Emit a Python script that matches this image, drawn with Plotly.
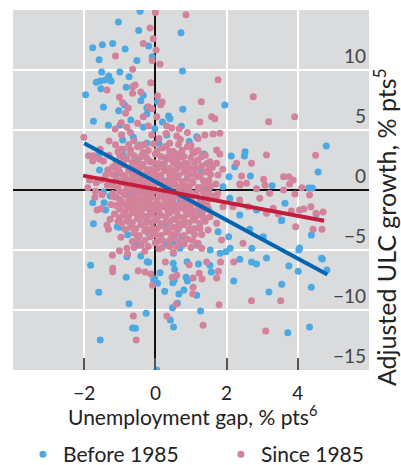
import plotly.graph_objects as go

# ---- Before 1985 (blue) ----
before_pts = [
    (-1.04,14.0),(-1.76,11.86),(-1.49,12.1),(-1.20,12.2),(-0.85,11.75),(-1.58,10.86),(-1.51,9.83),
    (-1.31,9.5),(-1.41,9.17),(-1.55,9.08),(-1.66,8.97),(-1.24,9.08),(-1.0,9.83),(-0.74,9.44),
    (-1.53,8.44),(-0.82,8.56),(-1.96,7.94),(-1.46,6.92),(-1.03,6.61),(-0.87,7.08),(-1.74,5.72),
    (-1.32,5.39),(-0.69,5.83),(-0.99,5.42),
    (-0.43,14.9),(-0.47,13.3),(0.72,13.1),(-0.19,12.0),(-0.09,11.1),(-0.52,10.8),(0.76,9.92),
    (-0.34,7.89),(-0.41,7.44),(0.06,7.36),(-0.24,6.86),(0.77,6.72),(1.95,7.08),(-0.24,6.33),
    (0.37,6.17),(0.41,5.94),(0.20,5.67),(0.73,5.31),(-0.34,5.22),(-0.02,5.11),
    (-1.57,1.67),(-0.92,4.17),(-1.46,-0.17),(-1.76,-1.06),(-1.44,-1.06),(-1.40,-1.67),(-1.74,-2.81),
    (-1.01,-3.11),(-0.78,-3.72),(-1.27,-0.5),(-1.60,2.92),
    (-1.82,-6.28),(-1.59,-8.53),(-0.82,-7.28),(-0.74,-9.47),(-1.55,-12.5),(-0.80,-5.56),(-0.64,-11.5),
    (0.04,-15.0),(-0.26,-10.28),(-0.56,-11.53),(0.42,-10.83),(0.51,-11.42),(0.48,-9.81),(0.62,-9.44),
    (1.27,-10.08),(0.26,-8.44),(0.66,-8.67),(0.80,-8.33),(1.16,-8.78),(2.20,-7.58),(0.90,-7.58),
    (0.49,-7.72),(0.06,-7.78),(-0.02,-7.39),(0.13,-6.89),(1.57,-6.83),(2.37,-5.78),(2.70,-6.0),
    (-0.19,-6.03),(-0.41,-5.5),(0.54,-6.61),(0.86,-7.28),(0.50,-6.11),(1.21,-6.17),(1.53,-6.28),(1.98,-5.14),
    (3.12,-5.67),(2.84,-6.17),(3.75,-6.33),(4.01,-6.78),(4.69,-5.75),(4.82,-6.67),(3.55,-7.86),
    (3.19,-8.5),(4.38,-8.11),(3.72,-11.9),(4.33,-11.42),(4.03,-5.0),
    (4.80,3.67),(4.57,1.5),(3.28,0.36),(4.31,0.17),(4.41,0.17),(3.64,-1.11),(4.52,-2.0),(3.54,-2.56),
    (2.84,-1.67),(4.38,-3.75),(3.03,-3.89),(4.05,-4.83),
    (1.16,4.44),(1.37,3.0),(2.13,2.83),(2.50,2.83),(1.30,1.53),(2.07,1.11),(2.23,1.94),(2.67,1.17),
    (1.90,0.28),(2.09,-0.69),(1.48,0.28),(1.76,-3.47),(2.06,-3.89),(2.37,-2.08),(2.65,-3.28),
    (0.32,4.58),(-0.24,3.89),(0.69,-4.86),
    (-1.07,-3.06),(-0.51,-4.11),(-0.23,-5.97),(-0.05,-7.5),(0.53,-7.5),(0.89,-5.97),(0.51,-5.28),
    (0.33,-4.44),(0.75,-3.89),(1.17,-4.58),(1.54,-5.0),(1.82,-5.28),(2.10,-4.86),(2.71,-4.86),
    (3.55,-2.5),(4.67,-5.69),(2.52,3.19),
    (-0.62,4.4),(-0.43,3.75),(-0.5,2.5),(0.1,3.9),(0.6,2.1),(0.9,1.0),(-0.8,-0.3),(0.3,-2.8),
    (-0.2,-3.6),(1.0,-3.3),(0.5,-4.3),(-0.5,-4.6),(0.2,0.8),(1.3,-1.8),(-1.1,1.3),(0.7,-0.9),
    (-0.3,-2.2),(1.5,0.1),(0.95,4.05),(-0.9,2.9),
]

# ---- Since 1985 (pink) ----
since_pts = [
    (-1.12,11.17),(-0.64,10.06),(-1.36,8.33),(-1.01,7.72),(-0.92,7.28),(-0.76,6.83),(-0.84,6.39),
    (-0.64,8.61),(-0.64,8.06),(-0.96,5.61),(-1.13,5.08),(-0.80,5.22),
    (0.0,14.8),(0.86,14.6),(-0.15,13.5),(-0.34,12.2),(-0.06,12.6),(0.02,11.67),(-0.09,10.8),
    (0.13,10.47),(1.76,9.19),(-0.13,8.94),(-0.57,8.75),(-0.41,8.17),(0.06,7.83),(0.19,7.33),
    (0.15,7.11),(1.29,7.36),(-0.20,6.94),(-0.10,6.78),(2.75,7.78),(0.04,6.11),(-0.34,6.11),
    (1.58,6.11),(1.67,5.94),(1.25,5.67),(-0.50,5.56),(-0.20,5.33),(0.32,5.33),(0.46,5.17),(0.67,5.11),
    (3.18,5.69),(3.91,6.11),
    (-2.01,4.39),(-1.30,4.08),(-1.12,3.78),(-0.97,3.39),(-1.88,2.86),(-1.74,2.86),(-1.76,2.42),
    (-1.46,2.42),(-1.57,2.56),(-1.34,1.67),(-1.18,1.94),(-1.01,1.53),(-1.85,0.83),(-1.66,0.61),
    (-1.53,0.83),(-1.90,0.19),(-1.68,-0.11),(-1.18,-0.56),(-0.94,-0.97),(-1.64,-1.67),(-1.53,-1.56),
    (-1.27,-2.44),(-1.36,-2.92),(-1.32,-3.28),(-0.97,-3.94),(-0.80,-4.86),
    (-1.21,-5.44),(-1.20,-6.53),(-1.20,-6.81),(-1.01,-5.06),(-0.78,-5.33),(-0.62,-10.5),
    (-0.54,-12.5),(0.32,-10.5),(0.58,-9.53),(1.34,-11.28),(1.79,-9.56),(2.70,-9.22),(1.05,-8.64),
    (1.06,-8.11),(-0.08,-7.94),(-0.48,-6.72),(-0.29,-6.83),(-0.13,-7.0),(0.47,-7.28),(0.60,-7.11),
    (1.06,-7.33),(1.31,-7.42),(1.23,-6.94),(1.72,-7.33),(1.77,-6.78),(1.83,-6.0),(2.20,-6.0),
    (0.28,-6.0),(0.95,-6.22),(1.44,-6.0),
    (3.52,-9.22),(3.10,-11.75),
    (3.12,2.92),(4.50,2.89),(3.04,0.89),(3.60,1.11),(3.75,1.11),(3.87,0.83),(3.77,0.5),(3.08,0.39),
    (2.84,0.11),(3.60,0.0),(4.11,0.19),(3.21,-0.28),(3.92,-0.33),(4.33,-0.42),(2.93,-0.69),
    (4.37,-1.39),(3.31,-1.53),(3.82,-1.75),(4.05,-1.67),(4.17,-1.58),(4.71,-1.83),(3.12,-1.94),
    (3.45,-2.0),(3.94,-3.06),(4.43,-3.28),(4.68,-3.28),(4.51,-1.94),
    (1.72,3.33),(1.81,3.0),(1.53,2.36),(1.72,2.22),(1.89,1.72),(1.76,1.25),(2.42,1.17),(2.37,0.5),
    (2.56,0.56),(2.28,2.22),(2.70,2.22),(1.62,4.67),(1.39,4.58),(1.81,4.72),(1.39,0.42),(1.72,-0.56),
    (1.90,-1.39),(2.18,-1.39),(2.37,-0.83),(2.61,-1.39),(1.53,-2.22),(1.72,-2.78),(1.48,-3.33),
    (1.86,-4.17),(1.20,-4.44),(2.46,-4.44),(1.30,-4.86),(2.38,0.42),
    # dense central cloud
    (-0.6,4.1),(-0.3,3.8),(0.1,4.3),(0.4,3.9),(0.7,4.2),(1.0,3.7),
    (-0.9,3.4),(-0.5,3.6),(-0.2,3.3),(0.2,3.5),(0.5,3.2),(0.9,3.6),(1.2,3.3),
    (-1.0,2.9),(-0.7,3.1),(-0.4,2.8),(0.0,3.0),(0.3,2.7),(0.6,3.0),(0.8,2.8),(1.1,3.1),(1.4,2.9),
    (-1.1,2.4),(-0.8,2.6),(-0.5,2.3),(-0.2,2.5),(0.1,2.2),(0.35,2.6),(0.6,2.4),(0.9,2.2),(1.2,2.5),
    (-1.2,1.9),(-0.9,2.1),(-0.6,1.8),(-0.35,2.0),(-0.1,1.7),(0.15,2.0),(0.4,1.8),(0.7,2.0),(1.0,1.8),
    (1.3,2.0),(1.6,1.9),
    (-1.0,1.4),(-0.75,1.6),(-0.5,1.3),(-0.25,1.5),(0.0,1.3),(0.25,1.6),(0.5,1.4),(0.8,1.5),(1.1,1.3),(1.4,1.5),
    (-1.1,0.9),(-0.85,1.1),(-0.6,0.8),(-0.4,1.0),(-0.15,0.9),(0.1,1.1),(0.35,0.8),(0.6,1.0),(0.9,0.9),
    (1.2,1.1),(1.5,0.8),
    (-1.2,0.4),(-0.9,0.6),(-0.65,0.3),(-0.4,0.5),(-0.2,0.4),(0.05,0.6),(0.3,0.3),(0.55,0.5),(0.8,0.4),
    (1.05,0.6),(1.35,0.3),(1.7,0.5),
    (-1.0,-0.1),(-0.75,0.1),(-0.5,-0.2),(-0.25,0.0),(0.0,-0.1),(0.2,0.1),(0.45,-0.2),(0.7,0.0),
    (0.95,-0.1),(1.2,0.1),(1.5,-0.2),
    (-1.1,-0.6),(-0.85,-0.4),(-0.6,-0.7),(-0.35,-0.5),(-0.1,-0.6),(0.15,-0.4),(0.4,-0.7),(0.65,-0.5),
    (0.9,-0.6),(1.15,-0.4),(1.4,-0.6),(1.65,-0.5),
    (-0.95,-1.1),(-0.7,-0.9),(-0.45,-1.2),(-0.2,-1.0),(0.05,-1.1),(0.3,-0.9),(0.55,-1.2),(0.8,-1.0),
    (1.05,-1.1),(1.3,-0.9),
    (-1.0,-1.6),(-0.75,-1.4),(-0.5,-1.7),(-0.25,-1.5),(0.0,-1.6),(0.25,-1.4),(0.5,-1.7),(0.75,-1.5),
    (1.0,-1.6),(1.25,-1.4),(1.5,-1.6),
    (-0.9,-2.1),(-0.6,-1.9),(-0.35,-2.2),(-0.1,-2.0),(0.15,-2.1),(0.4,-1.9),(0.65,-2.2),(0.9,-2.0),(1.2,-2.1),
    (-0.8,-2.6),(-0.5,-2.4),(-0.25,-2.7),(0.0,-2.5),(0.3,-2.6),(0.55,-2.4),(0.8,-2.7),(1.1,-2.5),(1.4,-2.6),
    (-0.7,-3.1),(-0.4,-2.9),(-0.1,-3.2),(0.2,-3.0),(0.5,-3.1),(0.8,-2.9),(1.1,-3.2),
    (-0.6,-3.6),(-0.3,-3.4),(0.0,-3.7),(0.3,-3.5),(0.6,-3.6),(0.95,-3.4),(1.3,-3.7),
    (-0.5,-4.1),(-0.15,-3.9),(0.2,-4.2),(0.55,-4.0),(0.9,-4.1),
    (-0.4,-4.6),(0.0,-4.4),(0.4,-4.7),(0.8,-4.5),(1.2,-4.6),
    (-0.3,-5.1),(0.1,-4.9),(0.5,-5.2),
    (-0.45,1.75),(-0.05,1.45),(0.45,1.15),(0.75,0.7),(-0.3,0.75),(0.2,0.35),(-0.55,0.05),(0.6,-0.25),
    (-0.2,-0.3),(0.35,-1.3),(-0.35,-0.8),(0.8,-1.3),(0.1,-1.85),(-0.6,-1.3),(0.5,-2.45),(-0.15,2.35),
    (0.55,2.85),(0.25,-0.75),(0.95,0.2),(1.3,-1.2),
    (-1.35,0.4),(-1.5,-0.4),(-1.25,-1.2),(-1.4,1.2),(-1.7,-0.6),(-1.15,-2.0),(-1.3,2.9),(-1.55,3.4),
    (-1.05,-2.6),(-0.95,4.6),(-0.7,4.8),
    (0.3,4.7),(0.6,4.5),(0.9,4.8),(-0.1,4.6),(1.2,4.3),
    (-0.75,3.8),(-0.4,3.7),(-0.05,3.85),(0.3,3.65),(0.65,3.8),(0.95,3.75),
    (-1.05,3.2),(-0.7,3.35),(-0.35,3.15),(0.05,3.3),(0.4,3.2),(0.75,3.3),(1.05,3.2),
    (-0.9,2.7),(-0.6,2.85),(-0.25,2.7),(0.15,2.8),(0.45,2.65),(0.7,2.75),(1.0,2.7),(1.3,2.8),
    (-1.0,2.2),(-0.65,2.3),(-0.35,2.15),(-0.05,2.3),(0.25,2.2),(0.5,2.3),(0.8,2.2),(1.1,2.3),(1.45,2.2),
    (-1.05,1.7),(-0.75,1.8),(-0.2,1.7),(0.05,1.8),(0.3,1.7),(0.6,1.8),(0.85,1.7),(1.15,1.8),(1.5,1.7),
    (-1.2,1.3),(-0.9,1.2),(-0.65,1.3),(-0.35,1.2),(-0.1,1.3),(0.15,1.2),(0.4,1.3),(0.65,1.2),(0.95,1.3),
    (1.25,1.2),(1.55,1.3),
    (-1.0,0.7),(-0.75,0.8),(-0.5,0.7),(-0.05,0.8),(0.2,0.7),(0.5,0.8),(1.05,0.7),(1.35,0.8),
    (-1.05,0.2),(-0.8,0.3),(-0.5,0.2),(-0.3,0.3),(-0.05,0.2),(0.45,0.3),(0.65,0.2),(0.9,0.3),(1.2,0.2),(1.55,0.3),
    (-1.2,-0.3),(-0.9,-0.2),(-0.65,-0.3),(-0.4,-0.2),(-0.15,-0.3),(0.1,-0.2),(0.3,-0.3),(0.85,-0.2),
    (1.05,-0.3),(1.35,-0.2),(1.75,-0.3),
    (-1.0,-0.8),(-0.75,-0.7),(-0.5,-0.8),(-0.25,-0.7),(0.05,-0.8),(0.5,-0.7),(0.75,-0.8),(1.0,-0.7),
    (1.25,-0.8),(1.55,-0.7),
    (-1.1,-1.3),(-0.85,-1.2),(-0.3,-1.3),(-0.1,-1.2),(0.15,-1.3),(0.45,-1.2),(0.65,-1.3),(0.95,-1.2),
    (1.2,-1.3),(1.45,-1.2),
    (-0.85,-1.8),(-0.65,-1.7),(-0.4,-1.8),(-0.15,-1.7),(0.1,-1.8),(0.35,-1.7),(0.6,-1.8),(0.85,-1.7),
    (1.1,-1.8),(1.35,-1.7),
    (-1.0,-2.3),(-0.75,-2.2),(-0.5,-2.3),(-0.2,-2.2),(0.05,-2.3),(0.3,-2.2),(0.8,-2.3),(1.05,-2.2),(1.35,-2.3),
    (-0.95,-2.8),(-0.65,-2.7),(-0.4,-2.8),(-0.1,-2.7),(0.15,-2.8),(0.4,-2.7),(0.65,-2.8),(0.95,-2.7),(1.25,-2.8),
    (-0.85,-3.3),(-0.55,-3.2),(-0.25,-3.3),(0.05,-3.2),(0.35,-3.3),(0.65,-3.2),(0.95,-3.3),(1.25,-3.2),
    (-0.45,-3.8),(-0.15,-3.7),(0.15,-3.8),(0.45,-3.7),(0.8,-3.8),(1.1,-3.7),
    (-0.65,-4.3),(-0.3,-4.2),(0.05,-4.3),(0.4,-4.2),(0.7,-4.3),(1.05,-4.2),
    (-0.6,-4.8),(-0.2,-4.7),(0.2,-4.8),(0.6,-4.7),(1.0,-4.8),
]

before_x = [p[0] for p in before_pts]
before_y = [p[1] for p in before_pts]
since_x = [p[0] for p in since_pts]
since_y = [p[1] for p in since_pts]

# Fitted lines (endpoints)
before_fit_x = [-2.0, 4.83]
before_fit_y = [3.9, -7.05]
since_fit_x = [-2.03, 4.74]
since_fit_y = [1.2, -2.56]

x_tickvals = [-2, 0, 2, 4]
x_ticktext = ["\u22122", "0", "2", "4"]
x_edge_tick = [-4]
y_tickvals = [-15, -10, -5, 0, 5, 10]
y_ticktext = ["\u221215", "\u221210", "\u22125", "0", "5", "10"]

BLUE = "#4ca9e2"
PINK = "#d2829a"
BLUE_LINE = "#0066b3"
RED_LINE = "#c21d3a"
FONT = "Lato"

fig = go.Figure()
fig.add_trace(go.Scatter(x=before_x, y=before_y, mode="markers", name="Before 1985",
                         legend="legend",
                         marker=dict(color=BLUE, size=7, line=dict(width=0))))
fig.add_trace(go.Scatter(x=since_x, y=since_y, mode="markers", name="Since 1985",
                         legend="legend2",
                         marker=dict(color=PINK, size=7, line=dict(width=0))))
fig.add_trace(go.Scatter(x=before_fit_x, y=before_fit_y, mode="lines", showlegend=False,
                         line=dict(color=BLUE_LINE, width=4)))
fig.add_trace(go.Scatter(x=since_fit_x, y=since_fit_y, mode="lines", showlegend=False,
                         line=dict(color=RED_LINE, width=4)))

leg_common = dict(orientation="h", xanchor="left", yanchor="middle", y=-0.235,
                  font=dict(size=21, family=FONT, color="#222222"), bgcolor="rgba(0,0,0,0)")
fig.update_layout(
    width=401, height=465,
    margin=dict(l=13, r=32, t=10, b=95, autoexpand=False),
    plot_bgcolor="#dadbdd", paper_bgcolor="white",
    font=dict(family=FONT, size=19, color="#222222"),
    legend=dict(x=0.028, **leg_common),
    legend2=dict(x=0.584, **leg_common),
    annotations=[
        dict(text="Adjusted ULC growth, % pts<sup>5</sup>", xref="paper", yref="paper",
             x=1.046, y=0.398, textangle=-90, showarrow=False,
             xanchor="center", yanchor="middle", font=dict(size=25, family=FONT)),
        dict(text="Unemployment gap, % pts<sup>6</sup>", xref="paper", yref="paper",
             x=0.503, y=-0.126, showarrow=False,
             xanchor="center", yanchor="middle", font=dict(size=21, family=FONT)),
    ],
)
fig.update_xaxes(range=[-4, 6], tickvals=x_tickvals, ticktext=x_ticktext,
                 ticks="inside", ticklen=12, tickwidth=2, tickcolor="#555555",
                 ticklabelstandoff=10,
                 minor=dict(tickvals=x_edge_tick, ticks="inside", ticklen=12, tickwidth=2,
                            tickcolor="#555555", showgrid=False),
                 showgrid=True, gridcolor="white", gridwidth=1.5,
                 zeroline=True, zerolinecolor="#111111", zerolinewidth=1.5,
                 showline=False)
fig.update_yaxes(range=[-15, 15], tickvals=y_tickvals, ticktext=y_ticktext,
                 side="right", ticklabelposition="inside top", ticks="",
                 showgrid=True, gridcolor="white", gridwidth=1.5,
                 zeroline=True, zerolinecolor="#111111", zerolinewidth=1.5,
                 showline=False)

fig.write_html("out.html", config={"displayModeBar": False},
               post_script="document.body.style.margin='0';")
